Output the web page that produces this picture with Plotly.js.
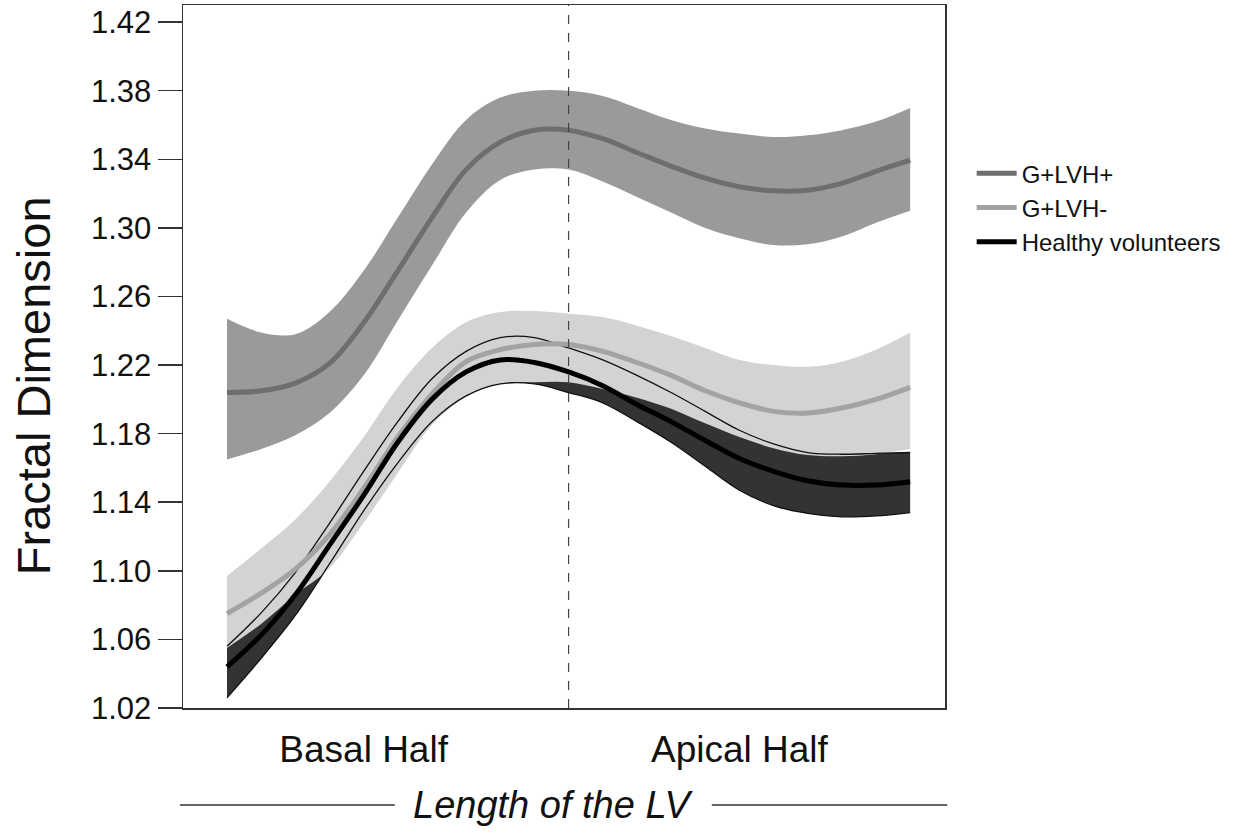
<!DOCTYPE html>
<html>
<head>
<meta charset="utf-8">
<script src="https://cdn.plot.ly/plotly-3.0.1.min.js"></script>
<style>html,body{margin:0;padding:0;background:#fff;}#chart{width:1258px;height:834px;}</style>
</head>
<body>
<div id="chart"></div>
<script>
// Position along the LV (0 = basal end, 100 = apical end)
const position = [0, 5, 10, 15, 20, 25, 30, 35, 40, 45, 50, 55, 60, 65, 70, 75, 80, 85, 90, 95, 100];

// G+LVH+
const lvhPosMean  = [1.204, 1.205, 1.2095, 1.221, 1.2447, 1.275, 1.306, 1.334, 1.350, 1.357, 1.357, 1.352, 1.344, 1.336, 1.329, 1.324, 1.3216, 1.322, 1.326, 1.333, 1.3395];
const lvhPosUpper = [1.247, 1.239, 1.238, 1.251, 1.275, 1.306, 1.337, 1.363, 1.376, 1.380, 1.380, 1.377, 1.370, 1.363, 1.358, 1.355, 1.353, 1.354, 1.357, 1.362, 1.370];
const lvhPosLower = [1.165, 1.171, 1.179, 1.192, 1.214, 1.246, 1.278, 1.309, 1.328, 1.334, 1.334, 1.327, 1.318, 1.309, 1.300, 1.294, 1.290, 1.2905, 1.295, 1.303, 1.310];

// G+LVH-
const lvhNegMean  = [1.075, 1.087, 1.101, 1.121, 1.148, 1.178, 1.203, 1.222, 1.229, 1.232, 1.232, 1.228, 1.2215, 1.214, 1.205, 1.198, 1.193, 1.192, 1.195, 1.200, 1.207];
const lvhNegUpper = [1.097, 1.113, 1.130, 1.152, 1.178, 1.207, 1.230, 1.245, 1.251, 1.2515, 1.250, 1.248, 1.243, 1.237, 1.230, 1.223, 1.220, 1.219, 1.222, 1.229, 1.239];
const lvhNegLower = [1.055, 1.069, 1.086, 1.1015, 1.128, 1.157, 1.185, 1.2015, 1.209, 1.210, 1.210, 1.206, 1.201, 1.1945, 1.186, 1.178, 1.1715, 1.1675, 1.1668, 1.168, 1.171];

// Healthy volunteers
const healthyMean  = [1.044, 1.0625, 1.086, 1.115, 1.144, 1.175, 1.200, 1.216, 1.223, 1.2215, 1.216, 1.208, 1.197, 1.187, 1.176, 1.1655, 1.158, 1.1525, 1.150, 1.150, 1.152];
const healthyUpper = [1.056, 1.0755, 1.099, 1.1277, 1.158, 1.187, 1.212, 1.228, 1.236, 1.236, 1.230, 1.223, 1.214, 1.204, 1.193, 1.182, 1.174, 1.169, 1.168, 1.1685, 1.169];
const healthyLower = [1.026, 1.049, 1.074, 1.104, 1.135, 1.163, 1.187, 1.202, 1.209, 1.209, 1.204, 1.198, 1.187, 1.175, 1.161, 1.147, 1.138, 1.1335, 1.1315, 1.132, 1.134];

const seriesNames = ['G+LVH+', 'G+LVH-', 'Healthy volunteers'];
const yTicks = [1.02, 1.06, 1.10, 1.14, 1.18, 1.22, 1.26, 1.30, 1.34, 1.38, 1.42];
const yTickText = ['1.02', '1.06', '1.10', '1.14', '1.18', '1.22', '1.26', '1.30', '1.34', '1.38', '1.42'];
const xTicks = [20, 75];
const xTickText = ['Basal Half', 'Apical Half'];
const halfBoundary = 50;
const yTitle = 'Fractal Dimension';
const xTitle = 'Length of the LV';

const FONT = 'Liberation Sans, Arial, sans-serif';

function edge(y, fill, fillcolor) {
  const t = {x: position, y: y, type: 'scatter', mode: 'lines',
    line: {width: 0, shape: 'spline', smoothing: 1}, showlegend: false, hoverinfo: 'skip'};
  if (fill) { t.fill = 'tonexty'; t.fillcolor = fillcolor; }
  return t;
}
function thin(y) {
  return {x: position, y: y, type: 'scatter', mode: 'lines',
    line: {width: 1.3, color: '#111', shape: 'spline', smoothing: 1}, showlegend: false, hoverinfo: 'skip'};
}
function mean(y, name, color, w) {
  return {x: position, y: y, type: 'scatter', mode: 'lines', name: name,
    line: {width: w, color: color, shape: 'spline', smoothing: 1}};
}

const data = [
  edge(lvhPosLower, false), edge(lvhPosUpper, true, '#9a9a9a'),
  edge(healthyLower, false), edge(healthyUpper, true, '#333333'),
  edge(lvhNegLower, false), edge(lvhNegUpper, true, '#d3d3d3'),
  thin(healthyUpper), thin(healthyLower),
  mean(lvhPosMean, seriesNames[0], '#6e6e6e', 5),
  mean(lvhNegMean, seriesNames[1], '#a3a3a3', 5),
  mean(healthyMean, seriesNames[2], '#000000', 5)
];

const layout = {
  width: 1258, height: 834,
  margin: {l: 183, r: 313, t: 5, b: 126},
  paper_bgcolor: '#fff', plot_bgcolor: '#fff',
  font: {family: FONT, color: '#111'},
  showlegend: true,
  legend: {x: 1.035, y: 0.792, xanchor: 'left', yanchor: 'top', traceorder: 'normal',
    font: {family: FONT, size: 24, color: '#111'}, itemwidth: 40, tracegroupgap: 0,
    bgcolor: 'rgba(0,0,0,0)'},
  xaxis: {range: [-6.44, 105.1], showgrid: false, zeroline: false,
    showline: true, linecolor: '#333', linewidth: 1.5, mirror: true,
    ticks: '', tickvals: xTicks, ticktext: xTickText, ticklabelstandoff: 8,
    tickfont: {family: FONT, size: 37, color: '#111'}},
  yaxis: {range: [1.02, 1.430], showgrid: false, zeroline: false,
    showline: true, linecolor: '#333', linewidth: 1.5, mirror: true,
    ticks: 'outside', ticklen: 24, tickwidth: 1.5, tickcolor: '#333',
    tickvals: yTicks, ticktext: yTickText,
    tickfont: {family: FONT, size: 31, color: '#111'}},
  annotations: [
    {text: yTitle, xref: 'paper', yref: 'paper', x: -0.197, y: 0.459, textangle: -90,
     showarrow: false, xanchor: 'center', yanchor: 'middle',
     font: {family: FONT, size: 47, color: '#111'}},
    {text: '<i>' + xTitle + '</i>', xref: 'paper', yref: 'paper', x: 0.4856, y: -0.138,
     showarrow: false, xanchor: 'center', yanchor: 'middle',
     font: {family: FONT, size: 38, color: '#111'}}
  ],
  shapes: [
    {type: 'line', xref: 'x', yref: 'paper', x0: halfBoundary, x1: halfBoundary, y0: 0, y1: 1,
     line: {color: '#444', width: 1.2, dash: 'dash'}, layer: 'above'},
    {type: 'line', xref: 'paper', yref: 'paper', x0: -0.004, x1: 0.278, y0: -0.138, y1: -0.138,
     line: {color: '#333', width: 1.5}},
    {type: 'line', xref: 'paper', yref: 'paper', x0: 0.694, x1: 1.003, y0: -0.138, y1: -0.138,
     line: {color: '#333', width: 1.5}}
  ]
};

Plotly.newPlot('chart', data, layout, {displayModeBar: false, staticPlot: true});
</script>
</body>
</html>
